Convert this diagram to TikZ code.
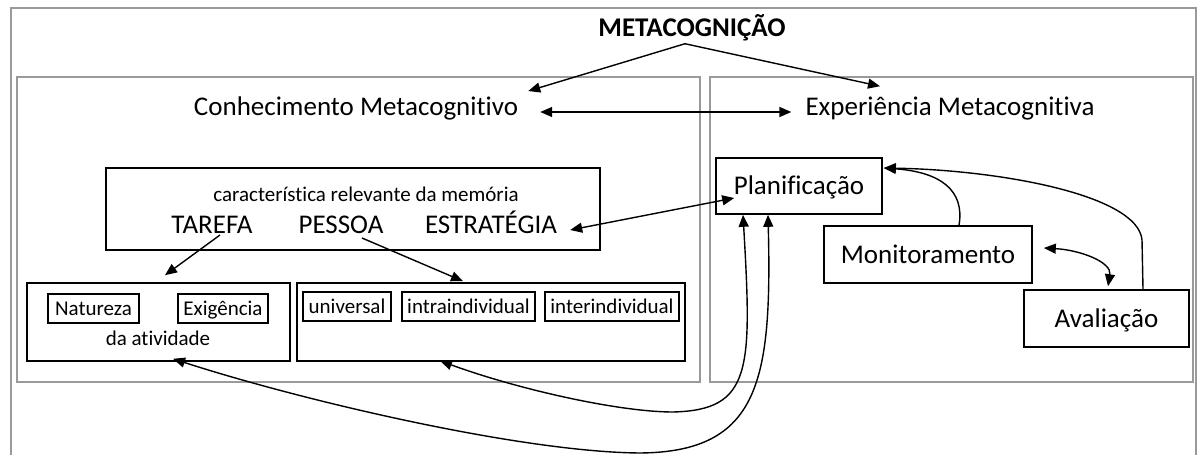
\documentclass[tikz,border=0pt]{standalone}
\usepackage{fontspec}
\setmainfont{Carlito}[Ligatures={NoCommon}]
\usetikzlibrary{arrows.meta}
\definecolor{framegray}{HTML}{9A9A9A}
\begin{document}
\begin{tikzpicture}[x=1pt,y=-1pt,
  bigtxt/.style={font=\fontsize{27}{32}\selectfont,inner sep=0pt},
  smalltxt/.style={font=\fontsize{21}{25}\selectfont,inner sep=0pt},
  panel/.style={draw=framegray,line width=2pt},
  frame/.style={draw,line width=1.6pt,inner sep=0pt},
  box/.style={draw,line width=1.6pt,text height=17pt,text depth=0pt},
  tag/.style={draw,line width=1.2pt,text height=13.5pt,text depth=0pt},
  arr/.style={line width=1.4pt,-{Triangle[length=12pt,width=10pt]}},
  darr/.style={line width=1.4pt,{Triangle[length=12pt,width=10pt]}-{Triangle[length=12pt,width=10pt]}}]
\useasboundingbox (0,0) rectangle (1201,455);
\draw[panel] (11,455) |- (1196,8) -- (1196,455);
\draw[panel] (17,77) rectangle (700,382);
\draw[panel] (710,77) rectangle (1193,382);

\node[bigtxt,anchor=base] (meta) at (692,36) {\bfseries METACOGNIÇÃO};
\node[bigtxt,anchor=base] (conhec) at (356,115) {Conhecimento Metacognitivo};
\node[bigtxt,anchor=base] (exper) at (950,115) {Experiência Metacognitiva};

\node[frame,minimum width=494pt,minimum height=82pt] (carac) at (353,209) {};
\node[smalltxt,anchor=base] (caract) at (366,201) {característica relevante da memória};
\node[bigtxt,anchor=base] (tarefa) at (212,233) {TAREFA};
\node[bigtxt,anchor=base] (pessoa) at (341,233) {PESSOA};
\node[bigtxt,anchor=base] (estrat) at (491,233) {ESTRATÉGIA};

\node[frame,minimum width=263pt,minimum height=78pt] (ativ) at (158.5,322) {};
\node[smalltxt,tag,minimum width=91pt,minimum height=29pt] (natur) at (93.5,308.5) {Natureza};
\node[smalltxt,tag,minimum width=90pt,minimum height=29pt] (exig) at (223,308.5) {Exigência};
\node[smalltxt,anchor=base] (datv) at (158,345) {da atividade};
\node[frame,minimum width=388pt,minimum height=78pt] (indiv) at (491,322) {};
\node[smalltxt,tag,minimum width=88pt,minimum height=29pt] (univ) at (347,306.5) {universal};
\node[smalltxt,tag,minimum width=133pt,minimum height=29pt] (intra) at (468.5,306.5) {intraindividual};
\node[smalltxt,tag,minimum width=134pt,minimum height=29pt] (inter) at (612,306.5) {interindividual};

\node[bigtxt,box,minimum width=166pt,minimum height=56pt] (plan) at (799,186) {Planificação};
\node[bigtxt,box,minimum width=208pt,minimum height=57pt] (monit) at (928,254.5) {Monitoramento};
\node[bigtxt,box,minimum width=165pt,minimum height=57pt] (aval) at (1106.5,318.5) {Avaliação};

\draw[arr] ([shift={(-7,3)}]meta.south) -- ([shift={(10,-5)}]conhec.north east);
\draw[arr] ([shift={(-7,3)}]meta.south) -- ([shift={(-70,-10)}]exper.north);
\draw[darr] ([shift={(22,-3)}]conhec.base east) -- ([shift={(-14,-3)}]exper.base west);
\draw[darr] ([shift={(13,-3)}]estrat.base east) -- ([shift={(19,12)}]plan.west);
\draw[arr] ([shift={(8,2)}]tarefa.base) -- ([shift={(6.5,-7)}]ativ.north);
\draw[arr] ([shift={(21,5)}]pessoa.base) -- ([shift={(-28,-1)}]indiv.north);
\draw[arr] ([xshift=31pt]monit.north) .. controls (965,190) and (940,172) .. ([shift={(1,-18)}]plan.east);
\draw[arr] ([xshift=36.5pt]aval.north) -- (1142,240) .. controls (1138,195) and (1000,170) .. ([shift={(1,-18)}]plan.east);
\draw[darr] ([shift={(11,-6.5)}]monit.east) .. controls (1080,250) and (1112,262) .. ([shift={(1.5,-3)}]aval.north);
\draw[darr] ([xshift=-56pt]plan.south) .. controls (752,370) and (752,410) .. (673,412) .. controls (620,412) and (520,390) .. ([shift={(-51,-1)}]indiv.south);
\draw[darr] ([xshift=-31pt]plan.south) .. controls (772,380) and (760,452) .. (640,453) .. controls (520,452) and (300,400) .. ([shift={(14.5,-3)}]ativ.south);
\end{tikzpicture}
\end{document}
